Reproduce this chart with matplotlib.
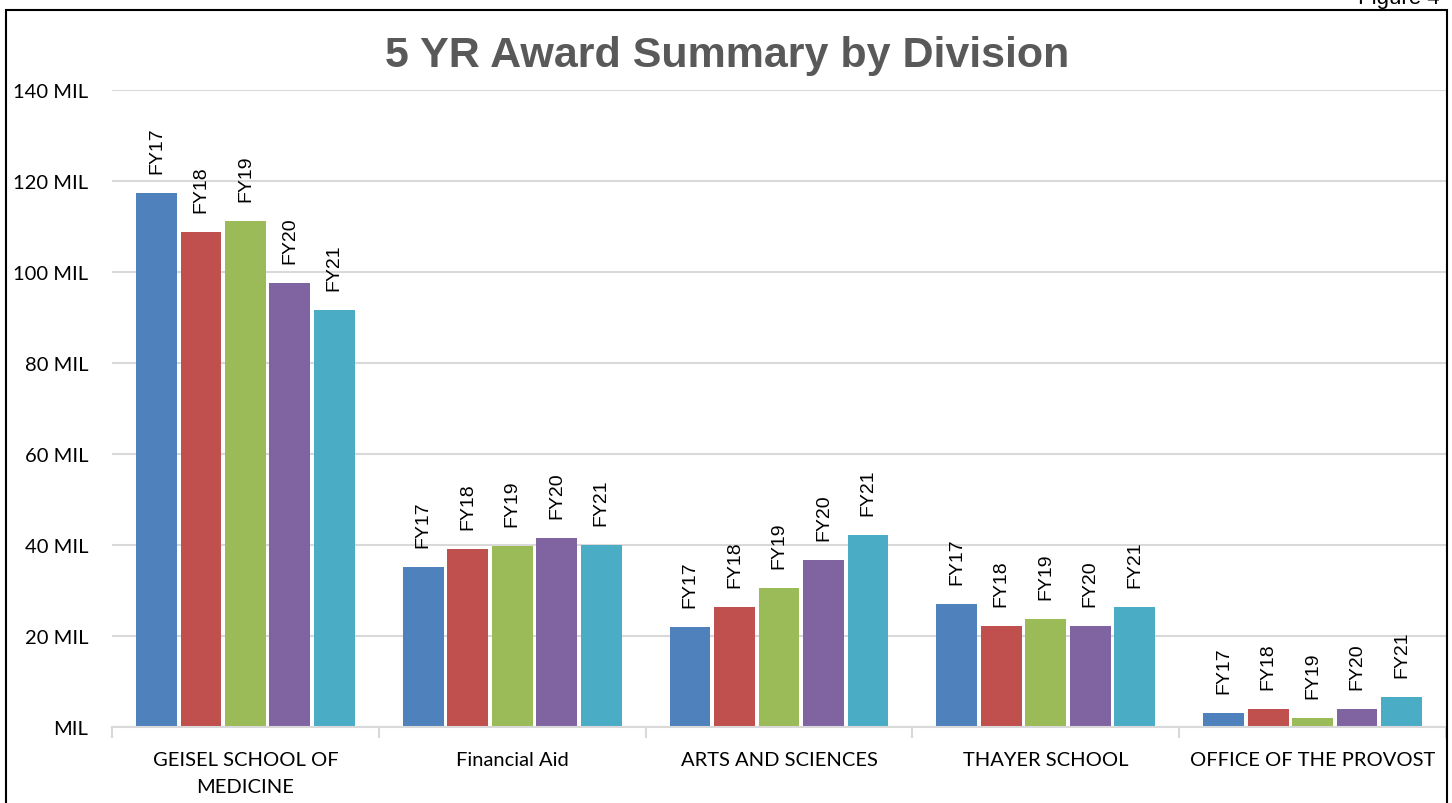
import matplotlib
matplotlib.use("Agg")
import matplotlib.pyplot as plt
from matplotlib.patches import Rectangle
import numpy as np

categories = ["GEISEL SCHOOL OF\nMEDICINE", "Financial Aid", "ARTS AND SCIENCES",
              "THAYER SCHOOL", "OFFICE OF THE PROVOST"]
years = ["FY17", "FY18", "FY19", "FY20", "FY21"]
fy17 = [117.4, 35.2, 22.0, 27.0, 3.1]
fy18 = [108.8, 39.1, 26.4, 22.2, 4.0]
fy19 = [111.2, 39.8, 30.5, 23.7, 2.0]
fy20 = [97.6, 41.5, 36.7, 22.2, 3.9]
fy21 = [91.6, 40.0, 42.2, 26.4, 6.6]
series = [fy17, fy18, fy19, fy20, fy21]
colors = ["#4F81BD", "#C0504D", "#9BBB59", "#8064A2", "#4BACC6"]
yticks = [0, 20, 40, 60, 80, 100, 120, 140]
ytick_labels = ["MIL", "20 MIL", "40 MIL", "60 MIL", "80 MIL", "100 MIL", "120 MIL", "140 MIL"]

W, H = 1452, 804
fig = plt.figure(figsize=(W / 100, H / 100), dpi=100)
ax = fig.add_axes([112 / W, 1 - 728 / H, (1446 - 112) / W, (728 - 91) / H])

x = np.arange(len(categories))
step = 1 / 6
bw = 0.153
for i, (yr, vals, c) in enumerate(zip(years, series, colors)):
    xs = x + (i - 2) * step
    ax.bar(xs, vals, width=bw, color=c, zorder=3)
    for xi, v in zip(xs, vals):
        ax.annotate(yr, (xi, v), xytext=(0, 14.5), textcoords="offset points",
                    rotation=90, ha="center", va="bottom", fontsize=14,
                    family="Liberation Sans", color="black", zorder=4)

ax.set_xlim(-0.5, len(categories) - 0.5)
ax.set_ylim(0, 140)
ax.set_yticks(yticks)
ax.set_yticklabels(ytick_labels, family="Lato", fontsize=14.5, color="black")
ax.tick_params(axis="y", length=0, pad=17)
ax.set_xticks(x)
ax.set_xticklabels(categories, family="Lato", fontsize=14.5, color="black", linespacing=1.72)
ax.tick_params(axis="x", which="major", length=0, pad=17)
ax.set_xticks(np.arange(-0.5, len(categories)), minor=True)
ax.tick_params(axis="x", which="minor", length=8, width=1.5, color="#d9d9d9")
ax.grid(axis="y", color="#d9d9d9", linewidth=1.5, zorder=0)
for s in ["left", "right", "top"]:
    ax.spines[s].set_visible(False)
ax.spines["bottom"].set_color("#d9d9d9")
ax.spines["bottom"].set_linewidth(1.5)
ax.spines["bottom"].set_zorder(5)

fig.text(727 / W, 1 - 56 / H, "5 YR Award Summary by Division", ha="center", va="center",
         fontsize=31, fontweight="bold", family="Liberation Sans", color="#595959")

fig.patches.append(Rectangle((6 / W, -0.05), (1447 - 6) / W, 1.05 - 10.5 / H,
                             transform=fig.transFigure, fill=False, edgecolor="black",
                             linewidth=1.5))
fig.text(1440 / W, 1 - 4 / H, "Figure 4", ha="right", va="baseline", fontsize=16,
         family="Liberation Sans", color="black")

fig.savefig("out.png", dpi=100)
